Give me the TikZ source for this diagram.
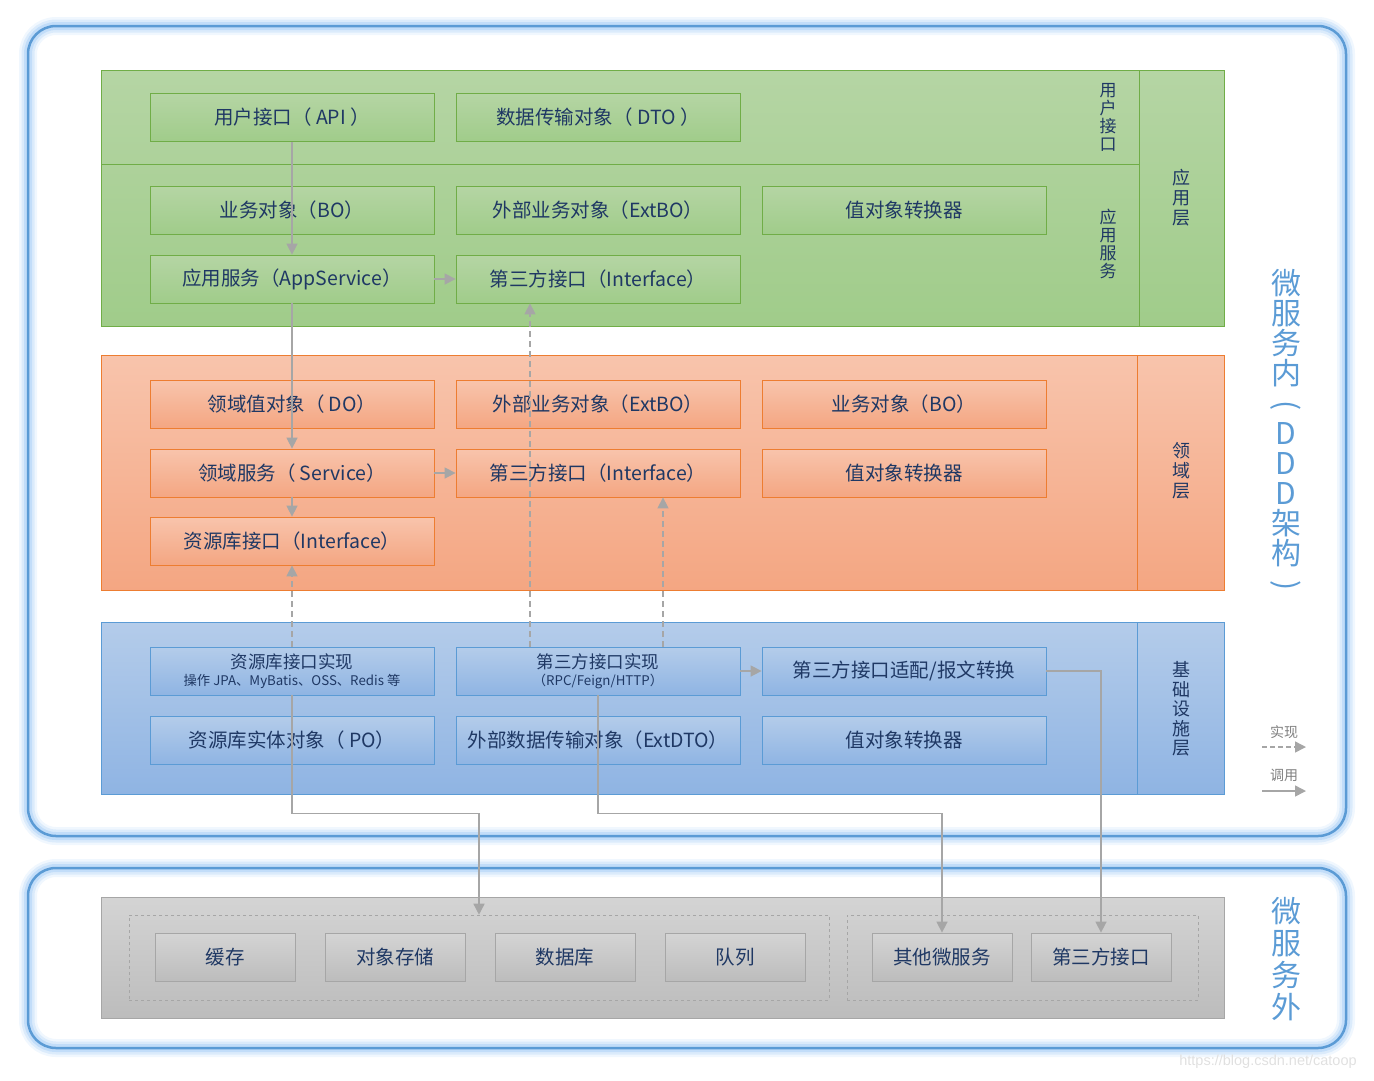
\documentclass[tikz,border=0pt]{standalone}
\usepackage{fontspec}
\setmainfont{Noto Sans CJK SC}
\newfontfamily\markfont{Liberation Sans}
\usetikzlibrary{positioning,arrows.meta}

\definecolor{txtnavy}{HTML}{1F3864}
\definecolor{frameblue}{HTML}{5B9BD5}
\definecolor{glowblue}{HTML}{9CC8F5}
\definecolor{greenline}{HTML}{70AD47}
\definecolor{greentop}{HTML}{B5D5A4}
\definecolor{greenbot}{HTML}{A0CC8A}
\definecolor{orangeline}{HTML}{ED7D31}
\definecolor{orangetop}{HTML}{F8C4AC}
\definecolor{orangebot}{HTML}{F4A682}
\definecolor{blueline}{HTML}{5B9BD5}
\definecolor{bluetop}{HTML}{B4CCEA}
\definecolor{bluebot}{HTML}{8FB4E3}
\definecolor{grayline}{HTML}{A6A6A6}
\definecolor{graytop}{HTML}{D4D4D4}
\definecolor{graybot}{HTML}{BCBCBC}
\definecolor{arrowgray}{HTML}{A6A6A6}

\newcommand{\vparen}[1]{\rotatebox[origin=c]{-90}{#1}}

\tikzset{
  item/.style={draw, line width=0.8pt, minimum width=284pt, minimum height=48pt,
    inner sep=0pt, align=center, font=\fontsize{19.5}{22}\selectfont},
  appitem/.style={item, draw=greenline, top color=greentop, bottom color=greenbot},
  domitem/.style={item, draw=orangeline, top color=orangetop, bottom color=orangebot},
  infitem/.style={item, draw=blueline, top color=bluetop, bottom color=bluebot},
  extitem/.style={item, draw=grayline, top color=graytop, bottom color=graybot, minimum width=140pt},
  group/.style={draw=grayline, dashed, line width=0.6pt, minimum height=85pt, inner sep=0pt},
  vlabel/.style={align=center, font=\fontsize{17}{18}\selectfont},
  biglabel/.style={align=center, text=frameblue, font=\fontsize{29}{29}\selectfont},
  call/.style={draw=arrowgray, line width=1.5pt, -{Triangle[length=11pt,width=11pt]}},
  impl/.style={call, dash pattern=on 6pt off 4pt},
}

\begin{document}
\begin{tikzpicture}[x=1pt, y=-1pt, on grid, node distance=306pt,
    every node/.style={text=txtnavy}]
  \useasboundingbox (0,0) rectangle (1374,1080);

  % outer frames
  \foreach \w/\o in {18/0.15, 13/0.25, 8/0.4}{
    \draw[glowblue, line width=\w pt, opacity=\o, rounded corners=28pt] (28,26) rectangle (1346,836);
    \draw[glowblue, line width=\w pt, opacity=\o, rounded corners=28pt] (28,868) rectangle (1346,1048);
  }
  \draw[frameblue, line width=2.5pt, rounded corners=28pt] (28,26) rectangle (1346,836);
  \draw[frameblue, line width=2.5pt, rounded corners=28pt] (28,868) rectangle (1346,1048);

  % layers
  \shade[top color=greentop, bottom color=greenbot] (101,70) rectangle (1224,326);
  \draw[greenline, line width=0.8pt] (101,70) rectangle (1224,326);
  \draw[greenline, line width=0.8pt] (101,164) -- (1139,164) (1139,70) -- (1139,326);
  \shade[top color=orangetop, bottom color=orangebot] (101,355) rectangle (1224,590);
  \draw[orangeline, line width=0.8pt] (101,355) rectangle (1224,590) (1137,355) -- (1137,590);
  \shade[top color=bluetop, bottom color=bluebot] (101,622) rectangle (1224,794);
  \draw[blueline, line width=0.8pt] (101,622) rectangle (1224,794) (1137,622) -- (1137,794);
  \shade[top color=graytop, bottom color=graybot] (101,897) rectangle (1224,1018);
  \draw[grayline, line width=0.8pt] (101,897) rectangle (1224,1018);

  % layer labels
  \node[vlabel] at (1108,117) {用\\户\\接\\口};
  \node[vlabel] at (1108,244) {应\\用\\服\\务};
  \node[vlabel, font=\fontsize{18}{20}\selectfont] at (1181,198) {应\\用\\层};
  \node[vlabel, font=\fontsize{18}{20}\selectfont] at (1181,471) {领\\域\\层};
  \node[vlabel, font=\fontsize{18}{19.6}\selectfont] at (1181,709) {基\\础\\设\\施\\层};
  \node[biglabel, font=\fontsize{30}{30}\selectfont] at (1286,432)
    {微\\服\\务\\内\\\vparen{(}\\D\\D\\D\\架\\构\\\vparen{)}};
  \node[biglabel, font=\fontsize{30}{32}\selectfont] at (1286,959) {微\\服\\务\\外};

  % application layer
  \node[appitem] (api) at (292,117.5) {用户接口（ API ）};
  \node[appitem, right=of api] (dto) {数据传输对象（ DTO ）};
  \node[appitem] (bo) at (292,210) {业务对象（BO）};
  \node[appitem, right=of bo] (extbo) {外部业务对象（ExtBO）};
  \node[appitem, right=of extbo] (appconv) {值对象转换器};
  \node[appitem] (appsvc) at (292,279) {应用服务（AppService）};
  \node[appitem, right=of appsvc] (appthird) {第三方接口（Interface）};

  % domain layer
  \node[domitem] (dov) at (292,404) {领域值对象（ DO）};
  \node[domitem, right=of dov] (domextbo) {外部业务对象（ExtBO）};
  \node[domitem, right=of domextbo] (dombo) {业务对象（BO）};
  \node[domitem] (domsvc) at (292,473) {领域服务（ Service）};
  \node[domitem, right=of domsvc] (domthird) {第三方接口（Interface）};
  \node[domitem, right=of domthird] (domconv) {值对象转换器};
  \node[domitem] (repoif) at (292,541) {资源库接口（Interface）};

  % infrastructure layer
  \node[infitem, font=\fontsize{17.5}{19}\selectfont] (repoimpl) at (292,671)
    {资源库接口实现\\[-2pt]{\fontsize{13.3}{14}\selectfont 操作 JPA、MyBatis、OSS、Redis 等}};
  \node[infitem, font=\fontsize{17.5}{19}\selectfont, right=of repoimpl] (tpimpl)
    {第三方接口实现\\[-2pt]{\fontsize{13.3}{14}\selectfont （RPC/Feign/HTTP）}};
  \node[infitem, right=of tpimpl] (adapter) {第三方接口适配/报文转换};
  \node[infitem] (po) at (292,740) {资源库实体对象（ PO）};
  \node[infitem, right=of po] (extdto) {外部数据传输对象（ExtDTO）};
  \node[infitem, right=of extdto] (infconv) {值对象转换器};

  % outside the service
  \node[group, minimum width=700pt] (storegroup) at (479,957.5) {};
  \node[group, minimum width=351pt] (extgroup) at (1022.5,957.5) {};
  \node[extitem] (cache) at (225,957) {缓存};
  \node[extitem, right=170pt of cache] (objstore) {对象存储};
  \node[extitem, right=170pt of objstore] (db) {数据库};
  \node[extitem, right=170pt of db] (queue) {队列};
  \node[extitem] (othersvc) at (942,957) {其他微服务};
  \node[extitem, right=159pt of othersvc] (thirdapi) {第三方接口};

  % connectors
  \draw[call] (api.south) -- (appsvc.north);
  \draw[call] (appsvc.east) -- (appthird.west);
  \draw[call] (appsvc.south) -- (domsvc.north);
  \draw[call] (domsvc.east) -- (domthird.west);
  \draw[call] (domsvc.south) -- (repoif.north);
  \draw[call] (tpimpl.east) -- (adapter.west);
  \draw[impl] (repoimpl.north) -- (repoif.south);
  \draw[impl] ([xshift=-68pt]tpimpl.north) -- ([xshift=-68pt]appthird.south);
  \draw[impl] ([xshift=65pt]tpimpl.north) -- ([xshift=65pt]domthird.south);
  \draw[call] (repoimpl.south) -- ++(0,118) -| (storegroup.north);
  \draw[call] (tpimpl.south) -- ++(0,118) -| (othersvc.north);
  \draw[call] (adapter.east) -| (thirdapi.north);

  % legend
  \node[text=gray, font=\fontsize{14}{16}\selectfont] (impllab) at (1284,732) {实现};
  \coordinate (impla) at (1262,747);
  \coordinate (implb) at (1306,747);
  \draw[impl, dash pattern=on 5pt off 3pt] (impla) -- (implb);
  \node[text=gray, font=\fontsize{14}{16}\selectfont] (calllab) at (1284,775) {调用};
  \coordinate (calla) at (1262,791);
  \coordinate (callb) at (1306,791);
  \draw[call] (calla) -- (callb);

  % watermark
  \node[text=black!12, font=\markfont\fontsize{14.5}{16}\selectfont] (mark) at (1268,1062) {https://blog.csdn.net/catoop};
\end{tikzpicture}
\end{document}
